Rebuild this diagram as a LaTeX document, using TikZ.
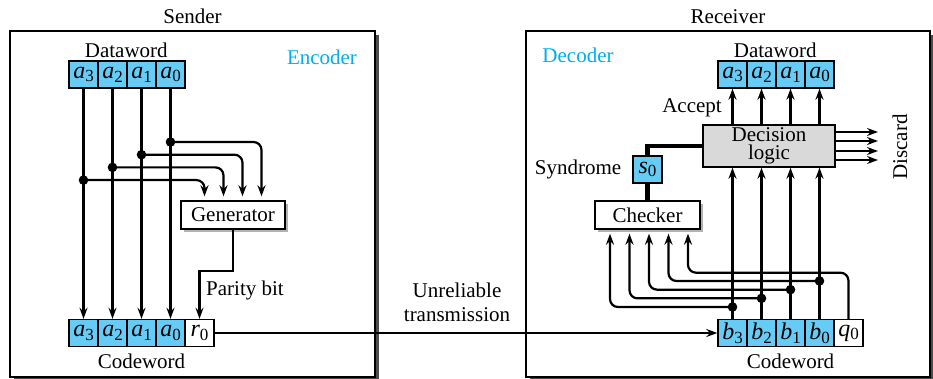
\documentclass[tikz,border=0pt]{standalone}
\usepackage{fontspec}
\setmainfont{Liberation Serif}
\usetikzlibrary{positioning,calc,arrows.meta,shadows}
\definecolor{bitblue}{RGB}{102,204,245}
\definecolor{labelcyan}{RGB}{0,174,239}
\newcommand{\bitlbl}[2]{{\fontsize{12}{12}\selectfont\textit{#1}}\raisebox{-0.4ex}{\fontsize{8.5}{8.5}\selectfont#2}}

\begin{document}
\begin{tikzpicture}[x=0.5pt, y=-0.5pt,
  every node/.style={font=\fontsize{10.5}{12}\selectfont},
  arr/.style={line width=1.1pt, -{Stealth[length=5.5pt,width=4pt,inset=1.8pt]}},
  bitcell/.style={draw, line width=0.7pt, minimum width=14.5pt, minimum height=13.5pt, inner sep=0pt, fill=bitblue},
  checkcell/.style={bitcell, fill=white},
  caption/.style={inner sep=1pt},
  unitbox/.style={draw, line width=0.7pt, fill=white, minimum width=52pt, minimum height=14pt, inner sep=0pt,
    drop shadow={shadow xshift=1.5pt, shadow yshift=-1.5pt, fill=black!30, opacity=1}},
  logicbox/.style={draw, line width=0.7pt, fill=black!15, minimum width=66pt, minimum height=21pt, inner sep=0pt,
    align=center, font=\fontsize{10.5}{9}\selectfont},
  frame/.style={draw, line width=0.6pt, fill=white, minimum width=182.5pt, minimum height=173pt,
    drop shadow={shadow xshift=2pt, shadow yshift=-2pt, fill=black!70, opacity=1}},
  joint/.style={circle, fill, inner sep=0pt, minimum size=4.8pt},
  cyantext/.style={text=labelcyan}
]
\useasboundingbox (0,0) rectangle (933,379);

% frames
\node[frame] (snd) at (192.5,204) {};
\node[frame, minimum width=202pt] (rcv) at (728,204) {};
\node[caption, above=2pt of snd] (sndlbl) {Sender};
\node[caption, above=2pt of rcv] (rcvlbl) {Receiver};
\node[cyantext] (enc) at (322,57) {Encoder};
\node[cyantext] (decl) at (578,55) {Decoder};

% sender side
\foreach \i in {0,...,3} {
  \node[bitcell] (da\i) at ({83.5+(3-\i)*29},74.5) {\bitlbl{a}{\i}};
  \node[bitcell] (ca\i) at ({83.5+(3-\i)*29},333) {\bitlbl{a}{\i}};
}
\node[checkcell] (cr0) at (199.5,333) {\bitlbl{r}{0}};
\node[caption, above=0pt of da1.north west] (dwa) {Dataword};
\node[caption, below=2pt of ca1.south] (cwa) {Codeword};
\node[unitbox] (gen) at (233,215) {Generator};

\foreach \i in {0,...,3} {
  \draw[arr] (da\i) -- (ca\i);
  \node[joint] (ja\i) at ($(da\i)+(0,{67.5+\i*12.7})$) {};
  \draw[arr, rounded corners=4pt, shorten >=2pt] (ja\i.center) -| ($(gen.north)+({-(\i-1.5)*19},0)$);
}
\draw[arr] (gen.south) |- (cr0.north |- 0,271) -- (cr0.north);
\node (par) at (245,290) {Parity bit};

% receiver side
\foreach \i in {0,...,3} {
  \node[bitcell] (db\i) at ({732.5+(3-\i)*29},74.5) {\bitlbl{a}{\i}};
  \node[bitcell] (cb\i) at ({732.5+(3-\i)*29},333) {\bitlbl{b}{\i}};
}
\node[checkcell] (cq0) at (848.5,333) {\bitlbl{q}{0}};
\node[caption, above=0pt of db1.north west] (dwb) {Dataword};
\node[caption, below=2pt of cb1.south] (cwb) {Codeword};

% channel
\draw[arr] (cr0) -- (cb3);
\node[align=center] (chan) at (457,302) {Unreliable\\transmission};

\node[logicbox] (dec) at (769,146) {Decision\\logic};
\node (acc) at (692,108) {Accept};
\foreach \i in {0,...,3} {
  \draw[arr] (db\i |- dec.north) -- (db\i);
  \draw[arr] (cb\i) -- (cb\i |- dec.south);
}
\coordinate (disc) at (878,146);
\foreach \y in {132,141,151,160}
  \draw[arr] (dec.east |- 0,\y) -- (disc |- 0,\y);
\node[rotate=90] (dis) at (900,147) {Discard};

\node[bitcell] (s0) at (647.5,169.5) {\bitlbl{s}{0}};
\node[left=2pt of s0] (syn) {Syndrome};
\node[unitbox, minimum width=52.5pt] (chk) at (647.5,215) {Checker};
\draw[line width=2.2pt] (s0.north) |- (dec.west);
\draw[line width=2.2pt] (s0) -- (chk);

\foreach \i in {0,...,3} {
  \node[joint] (jb\i) at ($(cb\i)+(0,{-52+\i*8.67})$) {};
  \draw[arr, rounded corners=4pt, shorten >=2pt] (jb\i.center) -| ($(chk.south)+({1.5+(1-\i)*19.5},0)$);
}
\draw[arr, rounded corners=4pt, shorten >=2pt] (cq0.north) |- ($(chk.south)+(60,43)$) -| ($(chk.south)+(40.5,0)$);
\end{tikzpicture}
\end{document}
